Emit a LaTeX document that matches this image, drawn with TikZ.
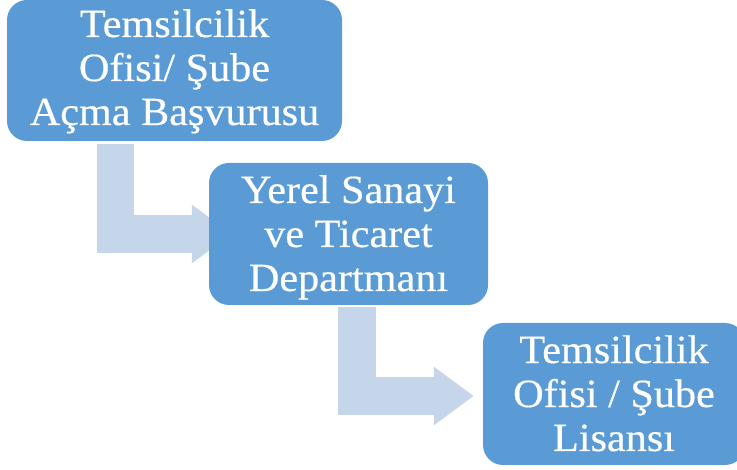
\documentclass[tikz,border=0pt]{standalone}
\usepackage{fontspec}
\setmainfont{Liberation Serif}
\newfontfamily\boxfont[FakeStretch=1.055,FakeBold=0.4]{Liberation Serif}
\usetikzlibrary{arrows.meta,calc,backgrounds}
\definecolor{boxblue}{HTML}{5B9BD5}
\definecolor{arrowblue}{HTML}{C5D5EA}
\newcommand\topstrut[1]{\rule{0pt}{#1}}
\newcommand\botstrut[1]{\rule[-#1]{0pt}{#1}}
\tikzset{
  stepbox/.style={fill=boxblue, draw=none, rounded corners=20pt, text=white, align=center,
    font=\boxfont\fontsize{40}{44}\selectfont, inner sep=0pt},
  bentarrow/.style={draw=arrowblue, line width=37.5pt, line join=miter,
    -{Triangle[length=40pt,width=56pt]}}
}
\begin{document}
\begin{tikzpicture}[x=1pt,y=-1pt]
\useasboundingbox (0,0) rectangle (737,470);
\node[stepbox, minimum width=335pt, minimum height=141pt] (b1) at (174.5,70.5)
  {\topstrut{30pt}Temsilcilik\\Ofisi/ Şube\\Açma Başvurusu\botstrut{9pt}};
\node[stepbox, minimum width=279pt, minimum height=142pt] (b2) at (348.5,234)
  {\topstrut{35pt}Yerel Sanayi\\ve Ticaret\\Departmanı\botstrut{9pt}};
\node[stepbox, minimum width=262pt, minimum height=142pt] (b3) at (614,394)
  {\topstrut{35pt}Temsilcilik\\Ofisi / Şube\\Lisansı\botstrut{9pt}};
\begin{scope}[on background layer]
\draw[bentarrow] ($(b1.south west)+(108.5,3)$) |- ($(b2.west)+(23,0)$);
\draw[bentarrow] ($(b2.south west)+(148,2)$) |- ($(b3.west)+(-9,2)$);
\end{scope}
\end{tikzpicture}
\end{document}
